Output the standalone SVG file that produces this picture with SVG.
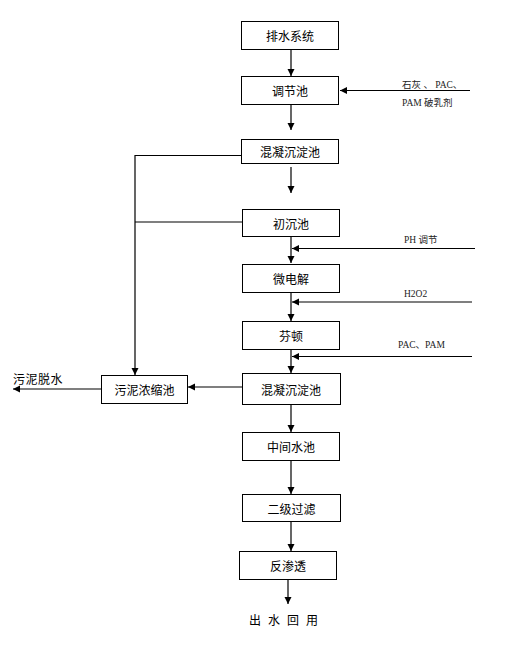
<svg xmlns="http://www.w3.org/2000/svg" width="519" height="649" viewBox="0 0 519 649">
<defs>
<marker id="arr" markerUnits="userSpaceOnUse" markerWidth="8" markerHeight="8" refX="7" refY="3.5" orient="auto">
<path d="M0,0 L7,3.5 L0,7 Z" fill="#000"/>
</marker>
<style>
.box{fill:#fff;stroke:#000;stroke-width:1}
.t{font-family:"Noto Sans CJK SC","Liberation Sans",sans-serif;font-size:12px;fill:#000;text-anchor:middle;dominant-baseline:central}
.s{font-family:"Liberation Serif","Noto Sans CJK SC",serif;font-size:9.5px;fill:#222}
.c line,.c polyline{stroke:#000;stroke-width:1.2;fill:none}
.a{marker-end:url(#arr)}
</style>
</defs>
<rect width="519" height="649" fill="#fff"/>
<g class="c" id="connectors">
<line class="a" x1="291" y1="49" x2="291" y2="76"/>
<line class="a" x1="470" y1="90.5" x2="340" y2="90.5"/>
<line class="a" x1="291" y1="104" x2="291" y2="130"/>
<line class="a" x1="291" y1="167" x2="291" y2="193"/>
<polyline class="a" points="241,155.5 135,155.5 135,375"/>
<line x1="242" y1="222" x2="135" y2="222"/>
<line class="a" x1="291" y1="237" x2="291" y2="263"/>
<line class="a" x1="475" y1="248.5" x2="292" y2="248.5"/>
<line class="a" x1="291" y1="293" x2="291" y2="321"/>
<line class="a" x1="472" y1="302" x2="292" y2="302"/>
<line class="a" x1="291" y1="350" x2="291" y2="373"/>
<line class="a" x1="472" y1="356.5" x2="292" y2="356.5"/>
<line class="a" x1="242" y1="387" x2="188" y2="387"/>
<line class="a" x1="102" y1="389" x2="13" y2="389"/>
<line class="a" x1="291" y1="405" x2="291" y2="432"/>
<line class="a" x1="291" y1="460" x2="291" y2="494"/>
<line class="a" x1="291" y1="521" x2="291" y2="551"/>
<line class="a" x1="288" y1="579" x2="288" y2="604"/>
</g>
<g id="n1"><rect class="box" x="241.5" y="21.5" width="97" height="28"/><text class="t" x="290" y="35.5">排水系统</text></g>
<g id="n2"><rect class="box" x="241.5" y="76.5" width="97" height="28"/><text class="t" x="290" y="90.5">调节池</text></g>
<g id="n3"><rect class="box" x="241.5" y="139.5" width="97" height="24"/><text class="t" x="290" y="151.5">混凝沉淀池</text></g>
<g id="n4"><rect class="box" x="242.5" y="209.5" width="97" height="27"/><text class="t" x="291" y="223">初沉池</text></g>
<g id="n5"><rect class="box" x="242.5" y="264.5" width="97" height="28"/><text class="t" x="291" y="278.5">微电解</text></g>
<g id="n6"><rect class="box" x="242.5" y="321.5" width="97" height="28"/><text class="t" x="291" y="335.5">芬顿</text></g>
<g id="n7"><rect class="box" x="242.5" y="373.5" width="98" height="31"/><text class="t" x="291" y="389">混凝沉淀池</text></g>
<g id="n8"><rect class="box" x="101.5" y="375.5" width="86" height="28"/><text class="t" x="144.5" y="389.5">污泥浓缩池</text></g>
<g id="n9"><rect class="box" x="242.5" y="432.5" width="97" height="28"/><text class="t" x="291" y="446.5">中间水池</text></g>
<g id="n10"><rect class="box" x="242.5" y="494.5" width="98" height="27"/><text class="t" x="291.5" y="508">二级过滤</text></g>
<g id="n11"><rect class="box" x="239.5" y="551.5" width="97" height="28"/><text class="t" x="288" y="565.5">反渗透</text></g>
<g id="labels">
<text class="s" x="402" y="87.5" xml:space="preserve">石灰 、 PAC、</text>
<text class="s" x="402" y="106">PAM 破乳剂</text>
<text class="s" x="404" y="242.5">PH 调节</text>
<text class="s" x="404" y="297">H2O2</text>
<text class="s" x="398" y="348">PAC、PAM</text>
<text class="t" x="13" y="378" style="text-anchor:start;letter-spacing:0.5px">污泥脱水</text>
<text class="t" x="249" y="619" style="text-anchor:start;letter-spacing:7px">出水回用</text>
</g>
</svg>
